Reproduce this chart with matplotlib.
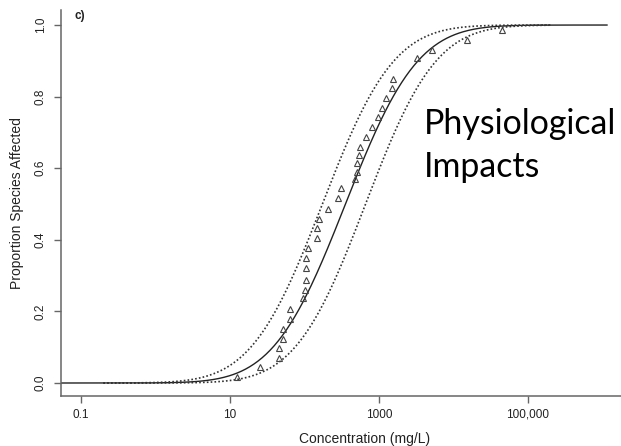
import numpy as np
from math import erf, sqrt
import matplotlib
matplotlib.use("Agg")
import matplotlib.pyplot as plt

# ---- data (species sensitivity distribution)
conc = [12.3, 25, 46, 46, 51, 52, 63, 63, 95, 102, 105, 105, 105, 112, 148, 145,
        158, 209, 282, 309, 479, 501, 513, 537, 550, 676, 813, 977, 1096, 1259,
        1514, 1549, 3236, 5129, 15136, 44668]
prop = [0.018, 0.044, 0.071, 0.099, 0.122, 0.150, 0.178, 0.206, 0.237, 0.260,
        0.288, 0.320, 0.349, 0.376, 0.404, 0.432, 0.459, 0.485, 0.516, 0.544,
        0.569, 0.590, 0.614, 0.637, 0.660, 0.688, 0.715, 0.744, 0.767, 0.795,
        0.823, 0.849, 0.907, 0.930, 0.958, 0.986]

# fitted log-normal (log10 mean, sd) and its confidence bounds
fit_mu, fit_sd = 2.55, 0.76
upper_mu, upper_sd = 2.24, 0.75
lower_mu, lower_sd = 2.82, 0.74

xticks = [0.1, 10, 1000, 100000]
xticklabels = ["0.1", "10", "1000", "100,000"]
yticks = [0.0, 0.2, 0.4, 0.6, 0.8, 1.0]
yticklabels = ["0.0", "0.2", "0.4", "0.6", "0.8", "1.0"]


def lnorm_cdf(logx, mu, sd):
    return np.array([0.5 * (1 + erf((v - mu) / (sd * sqrt(2)))) for v in logx])


W, H = 621, 446
L = 60.7                       # left spine, px
fig = plt.figure(figsize=(W / 100, H / 100), dpi=100)
plt.rcParams["font.family"] = ["Liberation Sans", "DejaVu Sans"]
ax = fig.add_axes([L / W, 50 / H, (W - L) / W, 386 / H])

x_lo, x_hi = 10 ** -1.272, 10 ** 6.248
lx_solid = np.linspace(-1.272, 6.06, 400)
lx_dot = np.linspace(-0.7, 5.3, 400)

ax.plot(10 ** lx_solid, lnorm_cdf(lx_solid, fit_mu, fit_sd), color="#222222", lw=1.0)
for mu, sd in ((upper_mu, upper_sd), (lower_mu, lower_sd)):
    ax.plot(10 ** lx_dot, lnorm_cdf(lx_dot, mu, sd), color="#333333", lw=1.2,
            linestyle=(0, (1, 1.3)))
ax.plot(conc, prop, linestyle="none", marker="^", markersize=4.8,
        markerfacecolor="none", markeredgecolor="#444444", markeredgewidth=0.8)

ax.set_xscale("log")
ax.set_xlim(x_lo, x_hi)
ax.set_ylim(-0.0363, 1.042)
ax.set_xticks(xticks)
ax.set_xticklabels(xticklabels)
ax.minorticks_off()
ax.set_yticks(yticks)
ax.set_yticklabels(yticklabels)

for s in ("top", "right"):
    ax.spines[s].set_visible(False)
for s in ("left", "bottom"):
    ax.spines[s].set_color("#666666")
    ax.spines[s].set_linewidth(1.1)
ax.tick_params(axis="both", colors="#666666", labelcolor="#222222", length=5, width=1,
               labelsize=8.5)
ax.tick_params(axis="x", pad=4)
ax.tick_params(axis="y", labelrotation=90, pad=5)
for t in ax.get_yticklabels():
    t.set_va("center")

ax.set_xlabel("Concentration (mg/L)", fontsize=10, color="#222222")
ax.xaxis.set_label_coords((365 - L) / (W - L), -0.093)
ax.set_ylabel("Proportion Species Affected", fontsize=10, color="#222222")
ax.yaxis.set_label_coords(-(L - 24) / (W - L), 0.5)

fig.text(80 / W, 1 - 15.5 / H, "c)", fontsize=8.5, fontweight="bold", color="#222222",
         ha="center", va="center")
fig.text(424 / W, 1 - 134 / H, "Physiological", family="Lato", fontsize=24.4,
         color="black", ha="left", va="baseline")
fig.text(424 / W, 1 - 177 / H, "Impacts", family="Lato", fontsize=24.4,
         color="black", ha="left", va="baseline")

fig.savefig("out.png", dpi=100)
